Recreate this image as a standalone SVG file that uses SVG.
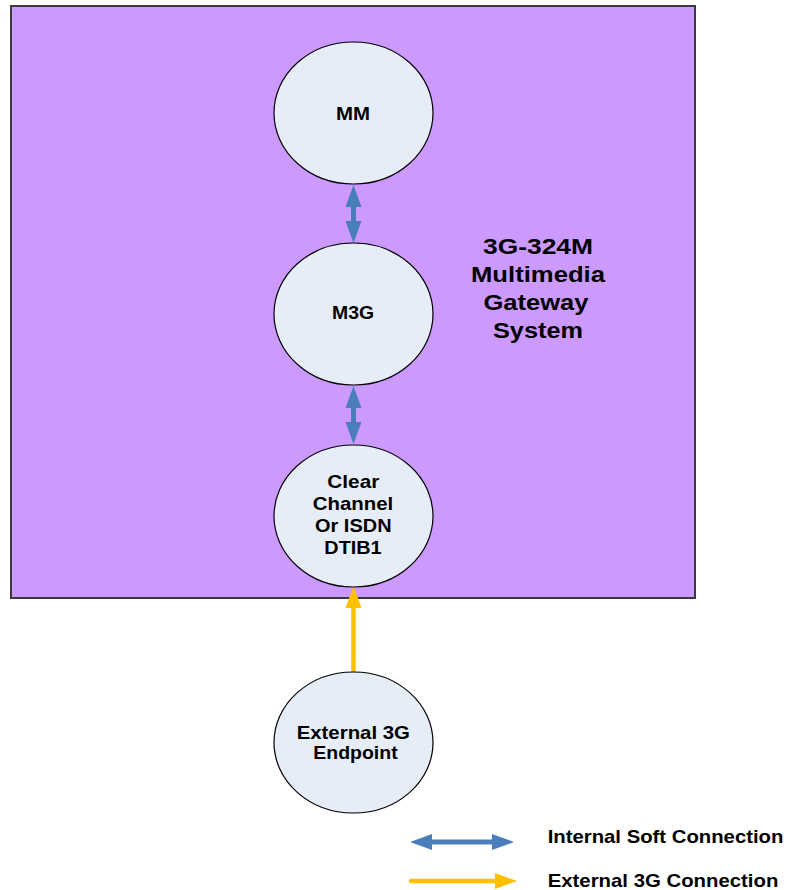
<svg xmlns="http://www.w3.org/2000/svg" width="786" height="890" viewBox="0 0 786 890">
<defs>
<style>
.node{fill:#E7EDF7;stroke:#000;stroke-width:1.2}
.t{font-family:"Liberation Sans",Arial,sans-serif;font-weight:bold;fill:#000;text-anchor:middle}
.n{font-size:19px}
.title{font-size:22px}
.leg{font-family:"Liberation Sans",Arial,sans-serif;font-weight:bold;font-size:18.5px;fill:#000}
.blue{stroke:#4A7EBB;stroke-width:5;fill:none}
.yellow{stroke:#FFC000;stroke-width:4.5;fill:none}
</style>
<marker id="hb" markerUnits="userSpaceOnUse" markerWidth="24" markerHeight="18" viewBox="0 -9 24 18" refX="0" refY="0" orient="auto-start-reverse">
<path d="M0,-8 L22,0 L0,8 z" fill="#4A7EBB"/>
</marker>
<marker id="hy" markerUnits="userSpaceOnUse" markerWidth="26" markerHeight="18" viewBox="0 -9 26 18" refX="0" refY="0" orient="auto">
<path d="M0,-8 L22,0 L0,8 z" fill="#FFC000"/>
</marker>
</defs>
<rect x="11" y="6" width="684" height="592" fill="#CC99FF" stroke="#3A3A3A" stroke-width="2"/>
<g id="title">
<text class="t title" x="538" y="253.5" textLength="110" lengthAdjust="spacingAndGlyphs">3G-324M</text>
<text class="t title" x="538" y="282" textLength="134" lengthAdjust="spacingAndGlyphs">Multimedia</text>
<text class="t title" x="536" y="309.5" textLength="105" lengthAdjust="spacingAndGlyphs">Gateway</text>
<text class="t title" x="538" y="337.5" textLength="90" lengthAdjust="spacingAndGlyphs">System</text>
</g>
<g id="connectors">
<line class="blue" x1="353.5" y1="207" x2="353.5" y2="221" marker-start="url(#hb)" marker-end="url(#hb)"/>
<line class="blue" x1="353.5" y1="408" x2="353.5" y2="422" marker-start="url(#hb)" marker-end="url(#hb)"/>
<line class="yellow" x1="353.5" y1="673" x2="353.5" y2="608" stroke-linecap="round" marker-end="url(#hy)"/>
</g>
<g id="MM">
<ellipse class="node" cx="353.5" cy="113" rx="79.5" ry="71"/>
<text class="t n" x="353" y="119.5" textLength="34" lengthAdjust="spacingAndGlyphs">MM</text>
</g>
<g id="M3G">
<ellipse class="node" cx="353.5" cy="314" rx="79.5" ry="71"/>
<text class="t n" x="353" y="318.5" textLength="42" lengthAdjust="spacingAndGlyphs">M3G</text>
</g>
<g id="DTIB1">
<ellipse class="node" cx="353.5" cy="516" rx="79.5" ry="71"/>
<text class="t n" x="353.3" y="487.5" textLength="52" lengthAdjust="spacingAndGlyphs">Clear</text>
<text class="t n" x="353" y="510" textLength="80.5" lengthAdjust="spacingAndGlyphs">Channel</text>
<text class="t n" x="353.3" y="532" textLength="76.5" lengthAdjust="spacingAndGlyphs">Or ISDN</text>
<text class="t n" x="353" y="554" textLength="57.3" lengthAdjust="spacingAndGlyphs">DTIB1</text>
</g>
<g id="External">
<ellipse class="node" cx="353.5" cy="742.5" rx="79.5" ry="70.5"/>
<text class="t n" x="353.3" y="739" textLength="113.3" lengthAdjust="spacingAndGlyphs">External 3G</text>
<text class="t n" x="355.5" y="758.5" textLength="84.3" lengthAdjust="spacingAndGlyphs">Endpoint</text>
</g>
<g id="legend">
<line class="blue" x1="432" y1="842" x2="492" y2="842" marker-start="url(#hb)" marker-end="url(#hb)"/>
<line class="yellow" x1="411" y1="881" x2="495" y2="881" stroke-linecap="round" marker-end="url(#hy)"/>
<text class="leg" x="547.7" y="843.3" textLength="235.7" lengthAdjust="spacingAndGlyphs">Internal Soft Connection</text>
<text class="leg" x="547.7" y="886.5" textLength="230.7" lengthAdjust="spacingAndGlyphs">External 3G Connection</text>
</g>
</svg>
